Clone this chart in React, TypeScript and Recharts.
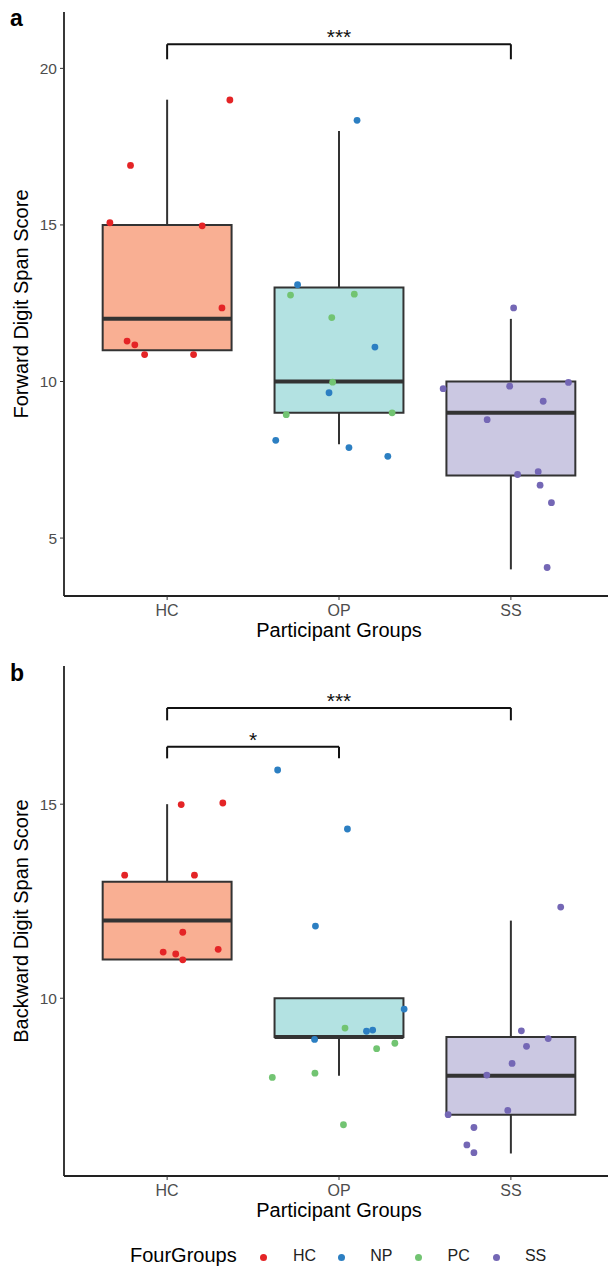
import React from "react";
import {
  ComposedChart,
  Label,
  ReferenceArea,
  ReferenceLine,
  Scatter,
  XAxis,
  YAxis,
} from "recharts";

const FONT = '"Liberation Sans", Arial, sans-serif';

const groups = ["HC", "OP", "SS"];
const boxFills = ["#F9AF93", "#B3E2E2", "#CBC8E2"];

// five-number summaries per group: lower whisker, Q1, median, Q3, upper whisker
const fwdLower = [11, 8, 4];
const fwdQ1 = [11, 9, 7];
const fwdMedian = [12, 10, 9];
const fwdQ3 = [15, 13, 10];
const fwdUpper = [19, 18, 12];

const bwdLower = [11, 8, 6];
const bwdQ1 = [11, 9, 7];
const bwdMedian = [12, 9, 8];
const bwdQ3 = [13, 10, 9];
const bwdUpper = [15, 10, 12];

// jittered points, coloured by FourGroups
const fourGroups = ["HC", "NP", "PC", "SS"];
const pointColors = ["#E42426", "#2C7FC2", "#72C472", "#7467B5"];

const fwdX = [
  [1.365, 0.787, 0.667, 1.204, 1.319, 0.767, 0.812, 0.869, 1.154],
  [2.105, 1.759, 2.209, 1.942, 1.632, 2.058, 2.284],
  [1.718, 2.089, 1.958, 1.963, 1.693, 2.309],
  [3.016, 2.606, 2.993, 3.335, 3.188, 2.862, 3.039, 3.159, 3.17, 3.236, 3.211],
];
const fwdY = [
  [18.99, 16.9, 15.07, 14.97, 12.35, 11.29, 11.17, 10.86, 10.86],
  [18.34, 13.09, 11.1, 9.64, 8.12, 7.89, 7.61],
  [12.76, 12.79, 12.04, 9.98, 8.94, 9.0],
  [12.35, 9.77, 9.85, 9.97, 9.37, 8.78, 7.03, 7.12, 6.69, 6.13, 4.06],
];

const bwdX = [
  [1.082, 1.324, 0.753, 1.159, 1.091, 0.977, 1.05, 1.297, 1.091],
  [1.643, 2.049, 1.863, 2.379, 2.16, 2.196, 1.858],
  [2.035, 2.219, 2.325, 1.612, 1.86, 2.026],
  [3.29, 3.061, 3.217, 3.091, 3.007, 2.86, 2.982, 2.635, 2.785, 2.744, 2.785],
];
const bwdY = [
  [14.99, 15.03, 13.17, 13.17, 11.7, 11.19, 11.14, 11.26, 10.99],
  [15.88, 14.36, 11.86, 9.72, 9.15, 9.18, 8.94],
  [9.23, 8.7, 8.84, 7.96, 8.07, 6.74],
  [12.35, 9.16, 8.96, 8.76, 8.32, 8.02, 7.11, 7.0, 6.67, 6.22, 6.02],
];

// significance brackets: [from group, to group, bar height, leg bottom, label]
const fwdBrackets: [number, number, number, number, string][] = [
  [1, 3, 20.77, 20.29, "***"],
];
const bwdBrackets: [number, number, number, number, string][] = [
  [1, 3, 17.48, 17.16, "***"],
  [1, 2, 16.48, 16.18, "*"],
];

const fwdTicks = [5, 10, 15, 20];
const bwdTicks = [10, 15];

const BOX_HALF = 0.375;
const LINE = "#333333";

interface PanelProps {
  tag: string;
  tagTop: number;
  yTitle: string;
  top: number;
  height: number;
  marginTop: number;
  domain: [number, number];
  ticks: number[];
  lower: number[];
  q1: number[];
  median: number[];
  q3: number[];
  upper: number[];
  xs: number[][];
  ys: number[][];
  brackets: [number, number, number, number, string][];
}

function YTitle({ viewBox, text }: { viewBox?: any; text: string }) {
  if (!viewBox) return null;
  const cx = viewBox.x + 21;
  const cy = viewBox.y + viewBox.height / 2;
  return (
    <text
      x={cx}
      y={cy}
      transform={`rotate(-90 ${cx} ${cy})`}
      textAnchor="middle"
      dominantBaseline="central"
      fontSize={20}
      fontFamily={FONT}
      fill="#000"
    >
      {text}
    </text>
  );
}

function XTitle({ viewBox }: { viewBox?: any }) {
  if (!viewBox) return null;
  return (
    <text
      x={viewBox.x + viewBox.width / 2}
      y={viewBox.y + 41}
      textAnchor="middle"
      fontSize={20}
      fontFamily={FONT}
      fill="#000"
    >
      Participant Groups
    </text>
  );
}

function Panel(p: PanelProps) {
  return (
    <div style={{ position: "absolute", left: 0, top: p.top }}>
      <ComposedChart
        width={620}
        height={p.height}
        margin={{ top: p.marginTop, right: 6, bottom: 4, left: 0 }}
      >
        <XAxis
          type="number"
          dataKey="x"
          domain={[0.4, 3.6]}
          ticks={[1, 2, 3]}
          allowDataOverflow
          tickFormatter={(v: number) => groups[v - 1]}
          height={50}
          tickSize={4}
          tickMargin={5}
          tick={{ fill: "#4D4D4D", fontSize: 16, fontFamily: FONT }}
          axisLine={{ stroke: "#222", strokeWidth: 1.8 }}
          tickLine={{ stroke: "#333" }}
        >
          <Label content={<XTitle />} />
        </XAxis>
        <YAxis
          type="number"
          dataKey="y"
          domain={p.domain}
          ticks={p.ticks}
          allowDataOverflow
          width={64}
          tickSize={4}
          tickMargin={3}
          tick={{ fill: "#4D4D4D", fontSize: 15.5, fontFamily: FONT }}
          axisLine={{ stroke: "#222", strokeWidth: 1.8 }}
          tickLine={{ stroke: "#333" }}
        >
          <Label content={<YTitle text={p.yTitle} />} />
        </YAxis>

        {groups.map((g, i) => (
          <ReferenceLine
            key={`wu-${g}`}
            segment={[
              { x: i + 1, y: p.q3[i] },
              { x: i + 1, y: p.upper[i] },
            ]}
            stroke={LINE}
            strokeWidth={2}
          />
        ))}
        {groups.map((g, i) => (
          <ReferenceLine
            key={`wl-${g}`}
            segment={[
              { x: i + 1, y: p.lower[i] },
              { x: i + 1, y: p.q1[i] },
            ]}
            stroke={LINE}
            strokeWidth={2}
          />
        ))}
        {groups.map((g, i) => (
          <ReferenceArea
            key={`box-${g}`}
            x1={i + 1 - BOX_HALF}
            x2={i + 1 + BOX_HALF}
            y1={p.q1[i]}
            y2={p.q3[i]}
            fill={boxFills[i]}
            fillOpacity={1}
            stroke={LINE}
            strokeWidth={2}
          />
        ))}
        {groups.map((g, i) => (
          <ReferenceLine
            key={`med-${g}`}
            segment={[
              { x: i + 1 - BOX_HALF, y: p.median[i] },
              { x: i + 1 + BOX_HALF, y: p.median[i] },
            ]}
            stroke={LINE}
            strokeWidth={4}
          />
        ))}

        {p.brackets.map(([a, b, h, leg, txt]) => (
          <ReferenceLine
            key={`bar-${a}-${b}`}
            segment={[
              { x: a, y: h },
              { x: b, y: h },
            ]}
            stroke="#111"
            strokeWidth={2}
            label={{
              value: txt,
              position: "top",
              offset: 0,
              fill: "#111",
              fontSize: 21,
              fontFamily: FONT,
            }}
          />
        ))}
        {p.brackets.map(([a, b, h, leg]) => (
          <ReferenceLine
            key={`la-${a}-${b}`}
            segment={[
              { x: a, y: leg },
              { x: a, y: h },
            ]}
            stroke="#111"
            strokeWidth={2}
          />
        ))}
        {p.brackets.map(([a, b, h, leg]) => (
          <ReferenceLine
            key={`lb-${a}-${b}`}
            segment={[
              { x: b, y: leg },
              { x: b, y: h },
            ]}
            stroke="#111"
            strokeWidth={2}
          />
        ))}

        {fourGroups.map((g, k) => (
          <Scatter
            key={g}
            name={g}
            data={p.xs[k].map((x, i) => ({ x, y: p.ys[k][i] }))}
            fill={pointColors[k]}
            isAnimationActive={false}
            shape={(s: any) => (
              <circle cx={s.cx} cy={s.cy} r={3.4} fill={pointColors[k]} />
            )}
          />
        ))}
      </ComposedChart>
      <div
        style={{
          position: "absolute",
          left: 10,
          top: p.tagTop,
          fontFamily: FONT,
          fontWeight: 700,
          fontSize: 23,
          lineHeight: "23px",
        }}
      >
        {p.tag}
      </div>
    </div>
  );
}

export default function App() {
  return (
    <div
      style={{
        position: "fixed",
        left: 0,
        top: 0,
        width: 608,
        height: 1269,
        overflow: "hidden",
        background: "#fff",
      }}
    >
      <Panel
        tag="a"
        tagTop={7}
        yTitle="Forward Digit Span Score"
        top={0}
        height={650}
        marginTop={12}
        domain={[3.15, 21.8]}
        ticks={fwdTicks}
        lower={fwdLower}
        q1={fwdQ1}
        median={fwdMedian}
        q3={fwdQ3}
        upper={fwdUpper}
        xs={fwdX}
        ys={fwdY}
        brackets={fwdBrackets}
      />
      <Panel
        tag="b"
        tagTop={22}
        yTitle="Backward Digit Span Score"
        top={640}
        height={590}
        marginTop={26}
        domain={[5.42, 18.56]}
        ticks={bwdTicks}
        lower={bwdLower}
        q1={bwdQ1}
        median={bwdMedian}
        q3={bwdQ3}
        upper={bwdUpper}
        xs={bwdX}
        ys={bwdY}
        brackets={bwdBrackets}
      />
      <div
        style={{
          position: "absolute",
          left: 0,
          top: 1244,
          width: 608,
          height: 25,
          fontFamily: FONT,
          color: "#000",
        }}
      >
        <span style={{ position: "absolute", left: 130, top: 0, fontSize: 20 }}>
          FourGroups
        </span>
        {fourGroups.map((g, k) => (
          <React.Fragment key={g}>
            <span
              style={{
                position: "absolute",
                left: 260 + k * 77.7,
                top: 10,
                width: 7,
                height: 7,
                borderRadius: "50%",
                background: pointColors[k],
              }}
            />
            <span
              style={{
                position: "absolute",
                left: 293 + k * 77.3,
                top: 3,
                fontSize: 16,
                color: "#222",
              }}
            >
              {g}
            </span>
          </React.Fragment>
        ))}
      </div>
    </div>
  );
}
